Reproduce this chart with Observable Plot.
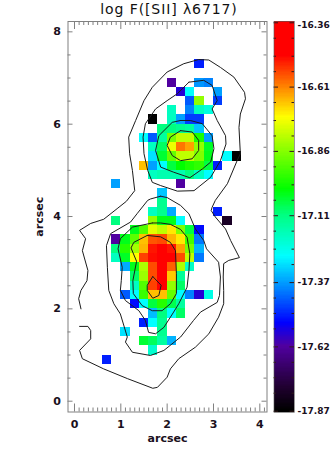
<!DOCTYPE html>
<html>
<head>
<meta charset="utf-8">
<script src="https://cdn.jsdelivr.net/npm/d3@7"></script>
<script src="https://cdn.jsdelivr.net/npm/@observablehq/plot@0.6"></script>
<style>
html,body{margin:0;padding:0;background:#fff;}
#wrap{position:relative;width:333px;height:454px;overflow:hidden;}
#wrap svg{position:absolute;top:0;background:transparent;}
#title{position:absolute;left:67px;width:204px;top:0;text-align:center;font:14px "DejaVu Sans",sans-serif;letter-spacing:0.9px;color:#111;white-space:nowrap;line-height:19px;}
</style>
</head>
<body>
<div id="wrap"><div id="title">log F([SII] λ6717)</div></div>
<script>
const titleText = "log F([SII] λ6717)";
const xLabel = "arcsec";
const yLabel = "arcsec";
const pixelSize = 0.2;

// [column, row, log flux] : pixel lower-left corner = column*pixelSize, row*pixelSize
const pixels = [
[13,36,-17.50],
[10,34,-17.62],[13,34,-17.38],[14,34,-17.40],
[11,33,-17.57],[12,33,-17.27],[15,33,-17.37],
[12,32,-17.44],[13,32,-16.85],[15,32,-17.47],
[10,31,-17.19],[12,31,-17.40],[13,31,-17.19],[14,31,-17.23],
[8,30,-17.87],[10,30,-17.19],[11,30,-17.37],[12,30,-17.47],[13,30,-17.47],
[9,29,-17.11],[10,29,-17.11],[11,29,-17.13],[12,29,-17.15],[13,29,-17.33],
[7,28,-17.27],[8,28,-17.44],[9,28,-17.15],[10,28,-16.88],[11,28,-16.80],[12,28,-16.80],[13,28,-16.98],[14,28,-17.37],
[8,27,-17.19],[9,27,-17.085],[10,27,-16.75],[11,27,-16.60],[12,27,-16.64],[13,27,-16.85],[14,27,-17.04],
[8,26,-17.30],[9,26,-17.05],[10,26,-16.90],[11,26,-16.80],[12,26,-16.80],[13,26,-16.87],[14,26,-17.03],[16,26,-17.27],[17,26,-17.87],
[7,25,-16.67],[8,25,-17.37],[9,25,-17.27],[10,25,-17.06],[11,25,-17.01],[12,25,-16.98],[13,25,-16.96],[14,25,-17.06],[15,25,-17.50],
[8,24,-17.19],[9,24,-17.17],[10,24,-17.17],[11,24,-17.17],[12,24,-17.11],[13,24,-17.19],[14,24,-17.27],
[4,23,-17.37],[11,23,-17.62],
[9,22,-17.33],
[9,21,-17.13],
[8,20,-17.19],[9,20,-17.13],[10,20,-17.36],[15,20,-17.50],
[4,19,-17.11],[8,19,-16.85],[9,19,-17.03],[10,19,-17.03],[11,19,-17.27],[16,19,-17.80],
[6,18,-17.03],[7,18,-16.92],[8,18,-16.76],[9,18,-16.80],[10,18,-16.71],[11,18,-16.87],[12,18,-17.06],[13,18,-17.52],
[4,17,-17.62],[5,17,-17.03],[6,17,-16.91],[7,17,-16.67],[8,17,-16.57],[9,17,-16.56],[10,17,-16.66],[11,17,-16.71],[12,17,-16.94],[13,17,-17.41],
[4,16,-17.11],[5,16,-16.97],[6,16,-16.83],[7,16,-16.66],[8,16,-16.51],[9,16,-16.45],[10,16,-16.51],[11,16,-16.64],[12,16,-16.88],[13,16,-17.35],
[4,15,-17.19],[5,15,-17.04],[6,15,-16.73],[7,15,-16.55],[8,15,-16.50],[9,15,-16.42],[10,15,-16.46],[11,15,-16.56],[12,15,-16.80],[13,15,-17.41],
[5,14,-17.36],[6,14,-17.03],[7,14,-16.82],[8,14,-16.56],[9,14,-16.45],[10,14,-16.58],[11,14,-16.82],[12,14,-17.20],
[6,13,-17.09],[7,13,-16.84],[8,13,-16.56],[9,13,-16.47],[10,13,-16.68],[11,13,-17.14],
[6,12,-17.19],[7,12,-16.92],[8,12,-16.55],[9,12,-16.48],[10,12,-16.85],[11,12,-17.09],
[5,11,-17.44],[6,11,-17.27],[7,11,-16.95],[8,11,-16.67],[9,11,-16.67],[10,11,-16.90],[11,11,-17.27],[12,11,-17.40],[13,11,-17.57],[14,11,-17.24],
[6,10,-17.52],[7,10,-17.27],[8,10,-17.06],[9,10,-16.97],[10,10,-17.07],[11,10,-17.15],
[8,9,-17.34],[9,9,-17.11],[10,9,-17.27],[11,9,-17.09],
[7,8,-17.50],[8,8,-17.27],[9,8,-17.13],
[5,7,-17.30],[9,7,-17.13],
[7,6,-17.05],[8,6,-17.08],[9,6,-17.15],[10,6,-17.35],
[8,5,-17.21],
[3,4,-17.50]
];

// contours in arcsec
const outerContour = [[0.14,2.00],[0.09,2.22],[0.14,2.40],[0.27,2.61],[0.29,2.83],[0.17,3.26],[0.24,3.52],[0.11,3.70],[0.35,3.85],[0.63,3.94],[0.92,4.17],[1.12,4.33],[1.30,4.56],[1.25,5.00],[1.19,5.36],[1.17,5.72],[1.32,6.08],[1.50,6.51],[1.68,6.80],[2.00,7.13],[2.36,7.31],[2.68,7.40],[2.90,7.39],[3.15,7.23],[3.44,7.02],[3.67,6.69],[3.69,6.55],[3.58,6.22],[3.55,5.93],[3.58,5.36],[3.51,5.21],[3.30,4.71],[3.04,4.35],[2.97,4.20],[2.95,4.13],[3.04,3.99],[3.26,3.73],[3.37,3.48],[3.56,3.11],[3.33,3.05],[3.22,2.98],[3.21,2.69],[3.22,2.40],[3.22,2.11],[3.11,1.82],[2.90,1.46],[2.61,1.17],[2.25,0.92],[2.07,0.70],[2.00,0.52],[1.79,0.30],[1.69,0.28],[1.14,0.49],[0.63,0.70],[0.17,0.92],[0.11,1.10],[0.35,1.35],[0.35,1.53],[0.29,1.62],[0.11,1.62]];
const upperLevel2 = [[2.47,6.91],[2.79,6.95],[2.97,6.84],[3.08,6.51],[2.97,6.33],[3.08,6.08],[3.26,5.75],[3.27,5.57],[3.15,5.21],[2.94,4.85],[2.58,4.56],[2.22,4.55],[1.86,4.67],[1.68,4.74],[1.58,5.00],[1.50,5.36],[1.48,5.72],[1.53,6.01],[1.75,6.33],[2.00,6.51],[2.22,6.66],[2.47,6.91]];
const upperLevel3 = [[2.29,6.08],[2.50,6.08],[2.76,6.01],[2.97,5.75],[3.01,5.47],[2.94,5.18],[2.76,5.03],[2.49,4.84],[2.14,4.96],[1.86,5.07],[1.75,5.43],[1.82,5.75],[2.11,6.04],[2.29,6.08]];
const upperLevel4 = [[2.29,5.86],[2.54,5.83],[2.68,5.65],[2.68,5.43],[2.54,5.25],[2.29,5.21],[2.11,5.32],[2.00,5.54],[2.07,5.72],[2.29,5.86]];
const lowerLevel2 = [[1.86,4.44],[1.64,4.38],[1.58,4.35],[1.35,4.06],[1.21,3.88],[0.78,3.63],[0.69,3.37],[0.71,2.90],[0.74,2.40],[0.85,2.11],[0.99,1.89],[1.14,1.39],[1.10,1.28],[1.25,1.06],[1.64,0.99],[1.93,1.10],[2.29,1.39],[2.57,1.75],[2.72,1.93],[3.08,2.14],[3.13,2.29],[3.15,2.69],[3.11,3.01],[2.85,3.30],[2.79,3.48],[2.61,3.73],[2.47,4.06],[2.29,4.24],[2.00,4.41],[1.86,4.44]];
const lowerLevel3 = [[1.68,3.86],[1.25,3.77],[0.99,3.52],[0.94,3.30],[1.03,2.90],[1.01,2.61],[0.99,2.40],[1.10,2.18],[1.39,1.96],[1.53,1.75],[1.60,1.49],[1.75,1.46],[1.93,1.60],[2.14,1.93],[2.25,2.11],[2.43,2.47],[2.47,2.83],[2.49,3.19],[2.43,3.55],[2.29,3.72],[2.07,3.83],[1.86,3.86],[1.68,3.86]];
const lowerLevel4 = [[1.57,3.59],[1.86,3.56],[2.07,3.44],[2.18,3.26],[2.20,2.76],[2.20,2.33],[2.07,2.11],[1.89,1.96],[1.68,1.96],[1.46,2.07],[1.27,2.33],[1.26,2.61],[1.34,3.03],[1.22,3.32],[1.28,3.44],[1.57,3.59]];
const lowerLevel5 = [[1.69,2.70],[1.87,2.51],[1.82,2.29],[1.69,2.23],[1.57,2.40],[1.57,2.51],[1.69,2.70]];
const contours = [outerContour,upperLevel2,upperLevel3,upperLevel4,lowerLevel2,lowerLevel3,lowerLevel4,lowerLevel5];

// axes
const xMajor = [0,1,2,3,4];
const xMinor = [0.1,0.2,0.3,0.4,0.5,0.6,0.7,0.8,0.9,1.1,1.2,1.3,1.4,1.5,1.6,1.7,1.8,1.9,2.1,2.2,2.3,2.4,2.5,2.6,2.7,2.8,2.9,3.1,3.2,3.3,3.4,3.5,3.6,3.7,3.8,3.9,4.1];
const yMajor = [0,2,4,6,8];
const yMinor = [0.5,1,1.5,2.5,3,3.5,4.5,5,5.5,6.5,7,7.5];

// colour table
const colorStops = [-17.87,-17.78,-17.62,-17.53,-17.37,-17.27,-17.11,-17.01,-16.73,-16.64,-16.49,-16.36];
const colorRange = ["#000000","#200030","#5000a0","#0000ff","#00a0ff","#00ffff","#00ff80","#00ff00","#ffff00","#ffa000","#ff0000","#ff0000"];
const barTicks = [-16.61,-16.86,-17.11,-17.37,-17.62,-17.87];
const barTop = [-16.36];
const barMinor = [-16.42,-16.49,-16.55,-16.67,-16.74,-16.80,-16.92,-16.99,-17.05,-17.17,-17.24,-17.30,-17.43,-17.49,-17.55,-17.68,-17.74,-17.80];

const axisGrey = "#808080", ink = "#1a1020", H = 454;
const fullH = 390.5, fullW = 199;

const main = Plot.plot({
  width: 270, height: H,
  marginLeft: 67.5, marginRight: 3.5, marginTop: 21, marginBottom: 42.5,
  x: {domain: [-0.14, 4.155]},
  y: {domain: [-0.234, 8.224]},
  color: {type: "linear", domain: colorStops, range: colorRange},
  style: {background: "transparent"},
  marks: [
    Plot.rect(pixels, {x1: d => d[0]*pixelSize, x2: d => (d[0]+1)*pixelSize, y1: d => d[1]*pixelSize, y2: d => (d[1]+1)*pixelSize, fill: d => d[2], inset: 0, shapeRendering: "crispEdges"}),
    ...contours.map(c => Plot.line(c, {x: d => d[0], y: d => d[1], stroke: "#1c1c1c", strokeWidth: 1, curve: "linear"})),
    Plot.tickX(xMajor, {x: d => d, stroke: axisGrey, insetTop: fullH-8}),
    Plot.tickX(xMinor, {x: d => d, stroke: axisGrey, insetTop: fullH-4}),
    Plot.tickX(xMajor, {x: d => d, stroke: axisGrey, insetBottom: fullH-8}),
    Plot.tickX(xMinor, {x: d => d, stroke: axisGrey, insetBottom: fullH-4}),
    Plot.tickY(yMajor, {y: d => d, stroke: axisGrey, insetRight: fullW-5}),
    Plot.tickY(yMinor, {y: d => d, stroke: axisGrey, insetRight: fullW-3}),
    Plot.tickY(yMajor, {y: d => d, stroke: axisGrey, insetLeft: fullW-5}),
    Plot.tickY(yMinor, {y: d => d, stroke: axisGrey, insetLeft: fullW-3}),
    Plot.frame({stroke: axisGrey, strokeWidth: 1}),
    Plot.axisX(xMajor, {anchor: "bottom", tickSize: 0, tickPadding: 8, label: xLabel, labelAnchor: "center", labelArrow: "none", labelOffset: 30, fontSize: 11, fontWeight: "bold", fill: ink, tickFormat: d => String(d)}),
    Plot.axisY(yMajor, {anchor: "left", tickSize: 0, tickPadding: 7, label: yLabel, labelAnchor: "center", labelArrow: "none", labelOffset: 33, fontSize: 11, fontWeight: "bold", fill: ink, tickFormat: d => String(d)})
  ]
});
main.style.left = "0px";
main.style.fontFamily = '"DejaVu Sans",sans-serif';

const barLevels = d3.range(-17.875, -16.355, 0.005);
const bar = Plot.plot({
  width: 63, height: H,
  marginLeft: 3.5, marginRight: 39, marginTop: 21, marginBottom: 42,
  x: {domain: [0, 1], axis: null},
  y: {domain: [-17.875, -16.355]},
  color: {type: "linear", domain: colorStops, range: colorRange},
  style: {background: "transparent"},
  marks: [
    Plot.rect(barLevels, {x1: 0, x2: 1, y1: d => d, y2: d => Math.min(d+0.012, -16.355), fill: d => d, shapeRendering: "crispEdges"}),
    Plot.tickY(barTicks.concat(barTop), {y: d => d, stroke: "#301818", insetRight: 16}),
    Plot.tickY(barTicks.concat(barTop), {y: d => d, stroke: "#301818", insetLeft: 16}),
    Plot.tickY(barMinor, {y: d => d, stroke: "#301818", insetRight: 18}),
    Plot.tickY(barMinor, {y: d => d, stroke: "#301818", insetLeft: 18}),
    Plot.frame({stroke: "#555", strokeWidth: 0.6}),
    Plot.axisY(barTicks, {anchor: "right", tickSize: 0, tickPadding: 3, label: null, fontSize: 9, fontWeight: "bold", fill: ink, tickFormat: d => d.toFixed(2)}),
    Plot.axisY(barTop, {anchor: "right", tickSize: 0, tickPadding: 3, label: null, fontSize: 9, fontWeight: "bold", fill: ink, dy: 2, tickFormat: d => d.toFixed(2)})
  ]
});
bar.style.left = "270px";
bar.style.fontFamily = '"DejaVu Sans",sans-serif';

const wrap = document.getElementById("wrap");
wrap.appendChild(main);
wrap.appendChild(bar);
document.getElementById("title").textContent = titleText;
</script>
</body>
</html>
